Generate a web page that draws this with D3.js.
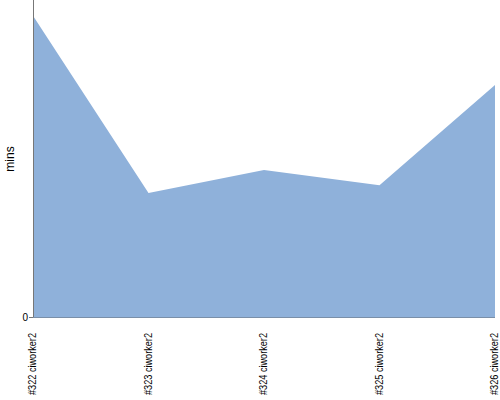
<!DOCTYPE html>
<html><head><meta charset="utf-8">
<script src="https://cdn.jsdelivr.net/npm/d3@7"></script>
<style>body{margin:0;background:#fff}svg{display:block}text{font-family:"Liberation Sans",Arial,sans-serif}</style>
</head><body>
<svg id="c" width="500" height="400"></svg>
<script>
const categories = ["#322 ciworker2","#323 ciworker2","#324 ciworker2","#325 ciworker2","#326 ciworker2"];
const values = [95, 39.1, 46.4, 41.6, 73.2];
const yTicks = [0];

const svg = d3.select("#c");
const m = {left:33, right:5, top:0, bottom:83};
const W = 500, H = 400;
const x = d3.scalePoint().domain(categories).range([m.left, W - m.right]);
const y = d3.scaleLinear().domain([0, 100]).range([H - m.bottom, m.top]);

const area = d3.area().x((d,i)=>x(categories[i])).y0(y(0)).y1(d=>y(d));
svg.append("path").datum(values).attr("d", area).attr("fill", "#8fb1da");

// y axis
svg.append("line").attr("x1", m.left+0.5).attr("x2", m.left+0.5).attr("y1", 0).attr("y2", y(0))
  .attr("stroke", "#777").attr("stroke-width", 1);
svg.append("line").attr("x1", m.left).attr("x2", W - m.right).attr("y1", y(0)+0.5).attr("y2", y(0)+0.5)
  .attr("stroke", "#7a8fa8").attr("stroke-width", 1);
yTicks.forEach(t => {
  svg.append("line").attr("x1", m.left-4).attr("x2", m.left).attr("y1", y(t)+0.5).attr("y2", y(t)+0.5).attr("stroke", "#777");
  svg.append("text").attr("x", m.left-5).attr("y", y(t)).attr("dy", "0.35em").attr("text-anchor", "end")
    .attr("font-size", 10).text(t);
});

// x labels
categories.forEach(c => {
  svg.append("text").attr("transform", `translate(${x(c)+3},333) rotate(-90)`)
    .attr("text-anchor", "end").attr("font-size", 10).attr("textLength", 62).attr("lengthAdjust","spacingAndGlyphs").text(c);
});

svg.append("text").attr("transform", `translate(14,159) rotate(-90)`).attr("text-anchor", "middle")
  .attr("font-size", 12).text("mins");
</script>
</body></html>
